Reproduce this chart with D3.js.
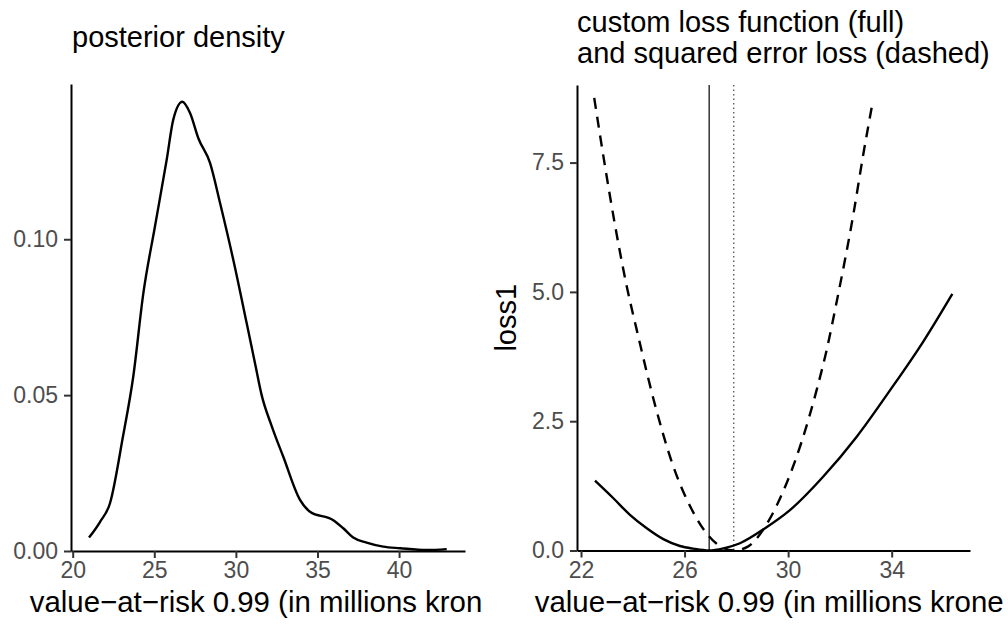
<!DOCTYPE html>
<html>
<head>
<meta charset="utf-8">
<script src="https://cdn.jsdelivr.net/npm/d3@7"></script>
<style>
  body { margin: 0; background: #fff; }
  svg { font-family: "Liberation Sans", Arial, sans-serif; }
</style>
</head>
<body>
<div id="chart"></div>
<script>
// posterior density of the value-at-risk
const densX = [21.0, 21.67, 22.29, 23.08, 23.71, 24.33, 25.04, 25.76, 26.16, 26.72, 27.19, 27.7, 28.42,
  29.03, 29.84, 30.66, 31.2, 31.58, 32.2, 32.9, 33.93, 34.54, 35.97, 36.58, 37.19, 38.01, 39.03, 40.06, 41.69, 42.92];
const densY = [0.0043, 0.0093, 0.0154, 0.0367, 0.0559, 0.0827, 0.1041, 0.1255, 0.1383, 0.1441, 0.1405, 0.1324, 0.1244,
  0.1116, 0.0934, 0.0731, 0.0595, 0.0500, 0.0400, 0.0303, 0.0164, 0.0126, 0.0099, 0.0073, 0.0043, 0.0027, 0.0014, 0.0009, 0.0003, 0.0006];

// custom loss (full line)
const lossX = [22.54, 23.25, 23.89, 24.54, 25.18, 25.82, 26.34, 26.94, 27.5, 28.14, 29.11, 30.07, 31.36, 32.65, 33.94, 35.22, 36.34];
const lossY = [1.35, 1.01, 0.69, 0.43, 0.22, 0.087, 0.035, 0.0, 0.04, 0.14, 0.43, 0.78, 1.43, 2.2, 3.1, 4.04, 4.96];

// squared error loss (dashed)
const sqX = [22.51, 22.93, 23.31, 23.77, 24.15, 24.92, 25.5, 26.21, 27.24, 27.9, 28.46, 29.23, 29.94, 30.52, 31.1, 31.49, 31.88, 32.52, 32.9, 33.27];
const sqY = [8.75, 7.42, 6.3, 5.1, 4.27, 2.7, 1.72, 0.86, 0.13, 0.0, 0.08, 0.56, 1.3, 2.1, 3.1, 3.88, 4.82, 6.5, 7.65, 8.68];

// minimisers: custom loss (solid) and squared error (dotted)
const vlines = [26.95, 27.9];

const densXTicks = [20, 25, 30, 35, 40];
const densYTicks = [0, 0.05, 0.10];
const lossXTicks = [22, 26, 30, 34];
const lossYTicks = [0, 2.5, 5, 7.5];

const width = 1008, height = 625;
const svg = d3.select("#chart").append("svg").attr("width", width).attr("height", height);

// the x titles are wider than their plots and get cut, as in the original
const defs = svg.append("defs");
defs.append("clipPath").attr("id", "clipL").append("rect").attr("x", 0).attr("y", 0).attr("width", 483).attr("height", height);
defs.append("clipPath").attr("id", "clipR").append("rect").attr("x", 504).attr("y", 0).attr("width", 500).attr("height", height);

function styleAxis(g) {
  g.select(".domain").attr("stroke", "#000").attr("stroke-width", 2);
  g.selectAll(".tick line").attr("stroke", "#333").attr("stroke-width", 2);
  g.selectAll(".tick text").attr("fill", "#4D4D4D").style("font-size", "23px");
}

// ---- left panel
const xL = d3.scaleLinear().domain([19.896, 44.04]).range([71, 465]);
const yL = d3.scaleLinear().domain([0, 0.1498]).range([551, 84]);

svg.append("g").attr("transform", "translate(0,551)")
  .call(d3.axisBottom(xL).tickValues(densXTicks).tickSize(7).tickSizeOuter(0).tickPadding(4))
  .call(styleAxis);
svg.append("g").attr("transform", "translate(71,0)")
  .call(d3.axisLeft(yL).tickValues(densYTicks).tickFormat(d3.format(".2f")).tickSize(7).tickSizeOuter(0).tickPadding(6))
  .call(styleAxis);

svg.append("path")
  .datum(densX.map((x, i) => [x, densY[i]]))
  .attr("fill", "none").attr("stroke", "#000").attr("stroke-width", 2.4)
  .attr("d", d3.line().x(d => xL(d[0])).y(d => yL(d[1])).curve(d3.curveMonotoneX));

svg.append("text").attr("x", 72).attr("y", 47).style("font-size", "29px").text("posterior density");
svg.append("text").attr("clip-path", "url(#clipL)")
  .attr("x", 274).attr("y", 612).attr("text-anchor", "middle").style("font-size", "29.4px")
  .text("value\u2212at\u2212risk 0.99 (in millions kroner)");

// ---- right panel
const xR = d3.scaleLinear().domain([21.845, 37.025]).range([577, 970]);
const yR = d3.scaleLinear().domain([0, 9.0]).range([550.5, 85]);

svg.append("g").attr("transform", "translate(0,550.5)")
  .call(d3.axisBottom(xR).tickValues(lossXTicks).tickSize(7).tickSizeOuter(0).tickPadding(4))
  .call(styleAxis);
svg.append("g").attr("transform", "translate(577,0)")
  .call(d3.axisLeft(yR).tickValues(lossYTicks).tickFormat(d3.format(".1f")).tickSize(7).tickSizeOuter(0).tickPadding(6))
  .call(styleAxis);

svg.selectAll(".vline").data(vlines).enter().append("line")
  .attr("x1", d => xR(d)).attr("x2", d => xR(d))
  .attr("y1", yR(9.0)).attr("y2", yR(0))
  .attr("stroke", (d, i) => i === 0 ? "#000" : "#444")
  .attr("stroke-width", 1.2)
  .attr("stroke-dasharray", (d, i) => i === 0 ? null : "1.5,3");

const lineR = d3.line().x(d => xR(d[0])).y(d => yR(d[1])).curve(d3.curveMonotoneX);
svg.append("path")
  .datum(lossX.map((x, i) => [x, lossY[i]]))
  .attr("fill", "none").attr("stroke", "#000").attr("stroke-width", 2.4)
  .attr("d", lineR);
svg.append("path")
  .datum(sqX.map((x, i) => [x, sqY[i]]))
  .attr("fill", "none").attr("stroke", "#000").attr("stroke-width", 2.4)
  .attr("stroke-dasharray", "11,8")
  .attr("d", lineR);

svg.append("text").attr("x", 577).attr("y", 32).style("font-size", "29px").text("custom loss function (full)");
svg.append("text").attr("x", 577).attr("y", 63).style("font-size", "29px").text("and squared error loss (dashed)");
svg.append("text")
  .attr("transform", `translate(516,${(85 + 550.5) / 2}) rotate(-90)`)
  .attr("text-anchor", "middle").style("font-size", "29px").text("loss1");
svg.append("text").attr("clip-path", "url(#clipR)")
  .attr("x", 779).attr("y", 612).attr("text-anchor", "middle").style("font-size", "29.4px")
  .text("value\u2212at\u2212risk 0.99 (in millions kroner)");
</script>
</body>
</html>
